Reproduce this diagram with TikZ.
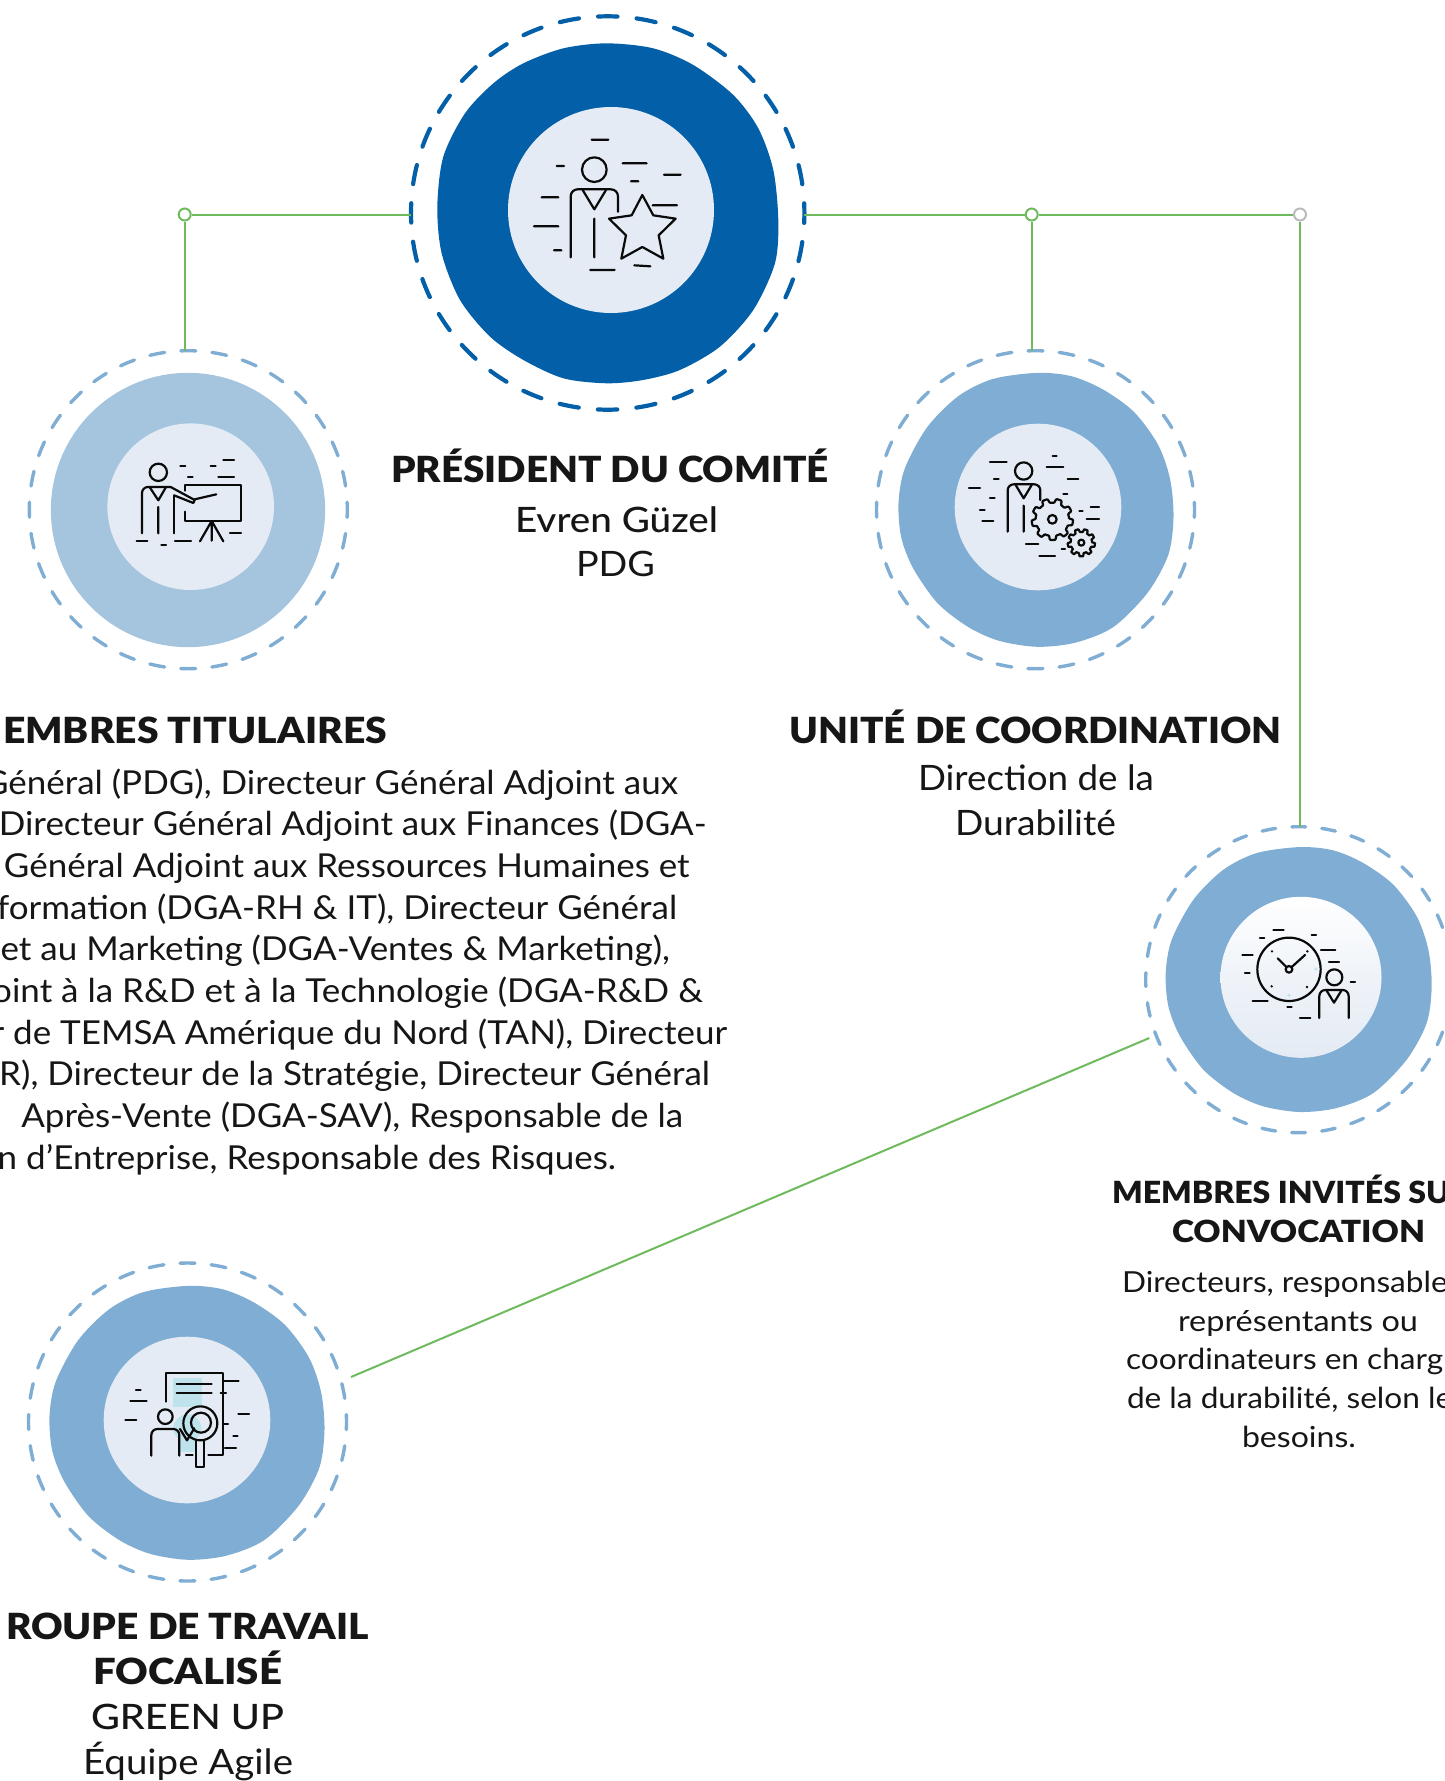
\documentclass[tikz,border=0pt]{standalone}
\usepackage{graphicx}
\usepackage{fontspec}
\setmainfont{Lato}
\newfontfamily\lightf{Lato}
\newfontfamily\medf{Lato Medium}
\newfontfamily\boldf{Lato Black}
\definecolor{presblue}{HTML}{035FA7}
\definecolor{midblue}{HTML}{7FADD3}
\definecolor{paleblue}{HTML}{A5C5DF}
\definecolor{discfill}{HTML}{E4EBF4}
\definecolor{linkgreen}{HTML}{6DBB5C}
\definecolor{junctiongrey}{HTML}{BBBBBB}
\definecolor{iconink}{HTML}{0A0A0A}
\definecolor{tintblue}{HTML}{BFE3EC}
\definecolor{txt}{HTML}{161616}
\newcommand\fitw[2]{\resizebox{#1pt}{\height}{#2}}
\newcommand\bodyline[1]{\scalebox{1.06}[1]{#1}}
\newcommand\smline[1]{\scalebox{1.09}[1]{#1}}
\tikzset{
  ringbig/.style={circle,draw=presblue,line width=4.2pt,line cap=round,outer sep=0pt,inner sep=0pt,minimum size=393.4pt,dash pattern=on 19.4pt off 19.22pt,dash phase=9.7pt},
  ringsmall/.style={circle,draw=midblue,line width=3.4pt,line cap=round,outer sep=0pt,inner sep=0pt,minimum size=318pt,dash pattern=on 15pt off 16.22pt,dash phase=7.5pt},
  ringmid/.style={circle,draw=midblue,line width=3.4pt,line cap=round,outer sep=0pt,inner sep=0pt,minimum size=306pt,dash pattern=on 13.8pt off 16.24pt,dash phase=6.9pt},
  disc/.style={circle,fill=discfill,inner sep=0pt,outer sep=0pt},
  link/.style={draw=linkgreen,line width=2pt},
  junction/.style={circle,draw=linkgreen,fill=white,line width=2pt,minimum size=12pt,inner sep=0pt},
  ico/.style={draw=iconink,line width=2.2pt,line cap=round,line join=round},
  lbl/.style={inner sep=0pt,outer sep=0pt,text=txt,anchor=base west},
  lble/.style={inner sep=0pt,outer sep=0pt,text=txt,anchor=base east},
  body/.style={lble,font=\lightf\fontsize{33}{38}\selectfont},
  bodysm/.style={lbl,font=\lightf\fontsize{29}{34}\selectfont},
  head/.style={lbl,font=\boldf\fontsize{36}{42}\selectfont},
  headsm/.style={lbl,font=\boldf\fontsize{30.5}{36}\selectfont},
  sub/.style={lbl,font=\lightf\fontsize{35}{42}\selectfont},
  submed/.style={lbl,font=\medf\fontsize{35}{42}\selectfont},
}
\newcommand\blobshape{(4,-398)(104,-388)(194,-350)(284,-285)(354,-190)(389,-90)(399,20)(384,130)(324,240)(224,340)(114,385)(4,397)(-106,380)(-196,340)(-286,270)(-356,170)(-391,80)(-399,-20)(-381,-120)(-316,-240)(-226,-330)(-126,-380)}
\begin{document}
\begin{tikzpicture}[x=1pt,y=-1pt]
\useasboundingbox (0,0) rectangle (1445,1781);
\clip (0,0) rectangle (1445,1781);

% blobs
\fill[presblue,xshift=400pt,yshift=0pt,x=.3333pt,y=-.3333pt] plot[smooth cycle] coordinates {(620,130)(760,145)(880,195)(1000,285)(1075,385)(1120,510)(1135,660)(1125,790)(1060,930)(960,1040)(840,1110)(730,1140)(620,1150)(490,1135)(370,1080)(270,1010)(180,900)(125,760)(112,620)(130,470)(195,340)(280,250)(370,190)(490,145)};
\begin{scope}[shift={(188,510)},x=.3446pt,y=-.3446pt]
\fill[paleblue] (0,0) circle[radius=398];
\end{scope}
\begin{scope}[shift={(1036,510)},x=.3446pt,y=-.3446pt]
\fill[midblue] plot[smooth cycle] coordinates {\blobshape};
\end{scope}
\begin{scope}[shift={(1298.7,979.7)},x=.3333pt,y=-.3333pt]
\fill[midblue] plot[smooth cycle] coordinates {\blobshape};
\end{scope}
\begin{scope}[shift={(187,1423)},x=.3446pt,y=-.3446pt]
\fill[midblue] plot[smooth cycle] coordinates {\blobshape};
\end{scope}

% rings and discs
\node[ringbig] (ringA) at (607.7,213) {};
\node[ringsmall] (ringB) at (188.3,509.7) {};
\node[ringsmall] (ringC) at (1035.5,509.7) {};
\node[ringmid] (ringD) at (1298.7,979.7) {};
\node[ringsmall] (ringE) at (187.5,1422) {};
\node[disc,minimum size=206pt] (discA) at (611,210) {};
\node[disc,minimum size=166.6pt] (discB) at (190.7,506.7) {};
\node[disc,minimum size=166.6pt] (discC) at (1038,507) {};
\node[circle,inner sep=0pt,outer sep=0pt,minimum size=161pt,top color=white,bottom color=discfill,middle color=discfill!60!white,shading angle=0] (discD) at (1301,977.3) {};
\node[disc,minimum size=166.6pt] (discE) at (187,1420) {};

% connectors
\node[junction] (j1) at (184.7,214.5) {};
\node[junction] (j2) at (1031.7,214.5) {};
\node[junction,draw=junctiongrey] (j3) at (1300,214.5) {};
\coordinate (dA) at (1149.3,1038);
\coordinate (dB) at (351,1377);
\draw[link] (j1 -| ringA.west) -- (j1);
\draw[link] (j2 -| ringA.east) -- (j2);
\draw[link] (j2) -- (j3);
\draw[link] (j1) -- (j1 |- ringB.north);
\draw[link] (j2) -- (j2 |- ringC.north);
\draw[link] (j3) -- (j3 |- ringD.north);
\draw[link] (dA) -- (dB);

% icon A
\begin{scope}[shift={(500,100)},x=.3333pt,y=-.3333pt,ico]
\draw (275,119)--(325,119) (170,198)--(192,198) (368,190)--(440,190) (492,224)--(542,224) (393,244)--(415,244) (125,292)--(175,292) (458,316)--(531,316) (102,379)--(175,379) (162,451)--(184,451) (271,510)--(344,510) (403,496)--(451,499);
\draw (283,209) circle[radius=37];
\draw[rounded corners=7pt] (212,472)--(212,268)--(354,268)--(354,335);
\draw (248,270)--(283,328)--(318,270) (283,356)--(283,472);
\draw (427,285)--(460,346)--(527,356)--(476,406)--(490,476)--(427,441)--(364,476)--(378,406)--(327,356)--(395,346)--cycle;
\end{scope}

% icon B
\begin{scope}[shift={(100,420)},x=.3333pt,y=-.3333pt,ico]
\draw (241,137)--(256,137) (332,137)--(347,137) (370,120)--(402,120) (264,170)--(278,170) (355,170)--(402,170) (390,339)--(423,339) (110,364)--(142,364) (184,374)--(198,374) (225,364)--(273,364);
\draw (175,157) circle[radius=26];
\draw[rounded corners=6pt] (126,340)--(126,201)--(212,201);
\draw (212,201)--(284,240)--(280,249)--(222,226);
\draw (223,228)--(223,340);
\draw (150,203)--(175,241)--(197,203) (175,261)--(175,340);
\draw (284,238)--(349,223);
\draw (255,212)--(255,195)--(422,195)--(422,303)--(255,303)--(255,275);
\draw (335,303)--(300,364) (335,303)--(370,364) (335,303)--(335,362);
\end{scope}

% icon C
\begin{scope}[shift={(950,420)},x=.3333pt,y=-.3333pt,ico]
\draw (308,108)--(320,108) (120,127)--(170,127) (290,142)--(340,142) (132,177)--(146,177) (353,177)--(385,177) (57,205)--(90,205) (120,233)--(134,233) (340,223)--(352,223) (90,270)--(104,270) (388,273)--(398,273) (422,261)--(447,261) (410,298)--(447,298) (97,304)--(130,304) (228,373)--(265,373) (268,407)--(315,407) (335,386)--(345,386);
\draw (221,153) circle[radius=26];
\draw[rounded corners=6pt] (173,335)--(173,193)--(271,193)--(271,240);
\draw (197,195)--(221,235)--(245,195) (221,257)--(221,335);
\draw plot[samples=145,domain=0:360] ({307+(56+6*max(-1,min(1,3*sin(9*\x+10))))*cos(\x)},{298+(56+6*max(-1,min(1,3*sin(9*\x+10))))*sin(\x)}) -- cycle;
\draw (307,298) circle[radius=13];
\draw plot[samples=145,domain=0:360] ({394+(36.5+4.5*max(-1,min(1,3*sin(9*\x))))*cos(\x)},{368+(36.5+4.5*max(-1,min(1,3*sin(9*\x))))*sin(\x)}) -- cycle;
\draw (394,368) circle[radius=9];
\end{scope}

% icon D
\begin{scope}[shift={(1210,890)},x=.3333pt,y=-.3333pt,ico]
\fill[tintblue,draw=none] (317,237) circle[radius=5] (237,316) circle[radius=5];
\draw (190,121)--(221,121) (150,144)--(163,144) (305,136)--(318,136) (333,181)--(376,181) (97,195)--(128,195) (105,248)--(119,248) (357,217)--(387,217) (422,275)--(435,275) (128,334)--(173,334) (232,352)--(245,352) (270,383)--(301,383);
\draw (237,238) circle[radius=95];
\draw (237,238) circle[radius=10];
\draw (203,205)--(230,232) (285,195)--(244,232);
\fill[iconink,draw=none] (186,184) circle[radius=4] (292,184) circle[radius=4] (185,289) circle[radius=4] (291,291) circle[radius=4];
\draw (373,262) circle[radius=24];
\draw[rounded corners=6pt] (328,384)--(328,300)--(416,300)--(416,384);
\draw (350,302)--(372,338)--(394,302);
\end{scope}

% icon E
\begin{scope}[shift={(100,1335)},x=.3333pt,y=-.3333pt,ico]
\fill[tintblue,draw=none] (219,129) rectangle (306,215);
\fill[tintblue,draw=none] (262,280) circle[radius=42];
\fill[tintblue,draw=none] (240,280) rectangle (285,352);
\draw (198,200)--(198,114)--(369,114)--(369,359)--(325,359) (258,359)--(278,359);
\draw (369,138)--(416,138) (362,175)--(378,175) (369,266)--(384,266) (415,237)--(447,237) (400,302)--(413,302) (375,338)--(408,338) (108,166)--(122,166) (91,199)--(140,199) (76,254)--(109,254);
\draw (230,146)--(335,146) (230,175)--(335,175);
\draw (196,245) circle[radius=22];
\draw[rounded corners=6pt] (154,362)--(154,282)--(238,282)--(238,362);
\draw (240,282)--(261,316)--(283,280);
\draw (301,265) circle[radius=51];
\draw (303,263) circle[radius=30];
\draw (289,316)--(289,397)--(313,397)--(313,316);
\end{scope}

% texts: president
\node[head] (tA1) at (391,482) {\fitw{438}{PRÉSIDENT DU COMITÉ}};
\node[submed] (tA2) at (515,532) {\fitw{203}{Evren Güzel}};
\node[sub] (tA3) at (576,576) {\fitw{79}{PDG}};
% members
\node[head] (tB0) at (3,743) {\fitw{384}{EMBRES TITULAIRES}};
\node[body] (tB1) at (678,794) {\bodyline{Général (PDG), Directeur Général Adjoint aux}};
\node[body] (tB2) at (706.6,835.7) {\bodyline{Directeur Général Adjoint aux Finances (DGA-}};
\node[body] (tB3) at (689.6,877.3) {\bodyline{Général Adjoint aux Ressources Humaines et}};
\node[body] (tB4) at (677,919) {\bodyline{formation (DGA-RH \& IT), Directeur Général}};
\node[body] (tB5) at (670,960.6) {\bodyline{et au Marketing (DGA-Ventes \& Marketing),}};
\node[body] (tB6) at (703,1002.3) {\bodyline{joint à la R\&D et à la Technologie (DGA-R\&D \&}};
\node[body] (tB7) at (727,1044) {\bodyline{r de TEMSA Amérique du Nord (TAN), Directeur}};
\node[body] (tB8) at (710,1085.6) {\bodyline{R), Directeur de la Stratégie, Directeur Général}};
\node[body] (tB9) at (683,1127.3) {\bodyline{Après-Vente (DGA-SAV), Responsable de la}};
\node[body] (tB10) at (616,1169) {\bodyline{n d’Entreprise, Responsable des Risques.}};
% unit
\node[head] (tC0) at (789.5,743) {\fitw{492}{UNITÉ DE COORDINATION}};
\node[sub] (tC1) at (918,790) {\fitw{236}{Direction de la}};
\node[sub] (tC2) at (955,835) {\fitw{161}{Durabilité}};
% invited
\node[headsm] (tD0) at (1112,1203) {\scalebox{1.05}[1]{MEMBRES INVITÉS SU}};
\node[headsm] (tD1) at (1172,1242) {\fitw{253}{CONVOCATION}};
\node[bodysm] (tD2) at (1122,1292) {\smline{Directeurs, responsable}};
\node[bodysm] (tD3) at (1178,1331) {\fitw{240}{représentants ou}};
\node[bodysm] (tD4) at (1126,1369.5) {\smline{coordinateurs en charg}};
\node[bodysm] (tD5) at (1127,1408) {\smline{de la durabilité, selon le}};
\node[bodysm] (tD6) at (1242,1447) {\fitw{114}{besoins.}};
% group
\node[head] (tE1) at (6,1639) {\fitw{363}{ROUPE DE TRAVAIL}};
\node[head] (tE2) at (93,1684) {\fitw{189}{FOCALISÉ}};
\node[submed] (tE3) at (91,1729) {\fitw{193}{GREEN UP}};
\node[sub] (tE4) at (83,1774) {\fitw{210}{Équipe Agile}};
\end{tikzpicture}
\end{document}
